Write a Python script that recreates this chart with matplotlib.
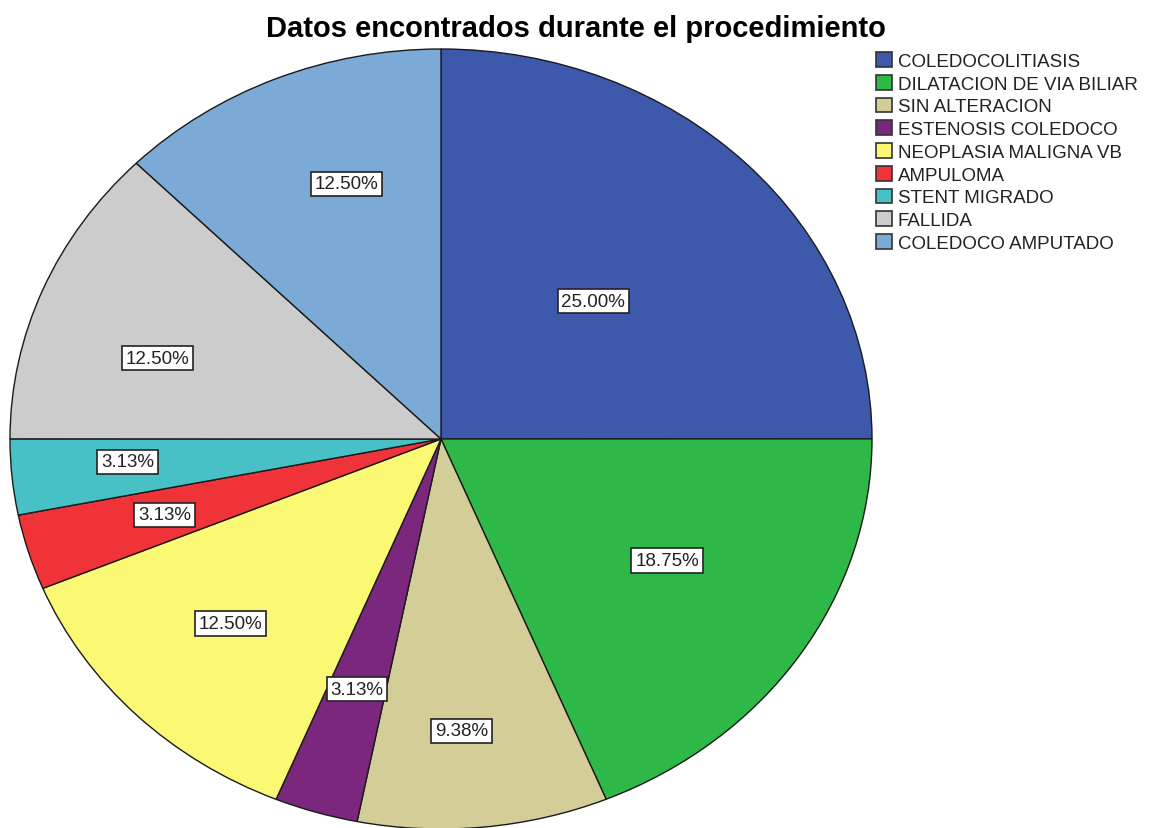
import matplotlib

matplotlib.use("Agg")
import matplotlib.pyplot as plt
import numpy as np
from matplotlib.patches import Patch

categories = [
    "COLEDOCOLITIASIS",
    "DILATACION DE VIA BILIAR",
    "SIN ALTERACION",
    "ESTENOSIS COLEDOCO",
    "NEOPLASIA MALIGNA VB",
    "AMPULOMA",
    "STENT MIGRADO",
    "FALLIDA",
    "COLEDOCO AMPUTADO",
]
percents = [25.00, 18.75, 9.38, 3.13, 12.50, 3.13, 3.13, 12.50, 12.50]
colors = ["#3E58AC", "#2EB848", "#D3CE97", "#7B277D", "#FBF873",
          "#EF3338", "#48C1C6", "#CCCCCC", "#7BAAD7"]
# radial position of each label (fraction of radius), as SPSS placed them
label_dist = [0.50, 0.61, 0.75, 0.67, 0.68, 0.67, 0.73, 0.69, 0.69]
label_angle_shift = [0, 3, -2, 0, -1, 0, -1, 5, -4]

plt.rcParams["font.family"] = ["Liberation Sans", "DejaVu Sans"]

W, H = 1155, 829
fig = plt.figure(figsize=(W / 100, H / 100), dpi=100)
cx, cy, rx, ry = 441, 440, 431, 390
ax = fig.add_axes([(cx - rx) / W, (H - cy - ry) / H, 2 * rx / W, 2 * ry / H])

wedges, _ = ax.pie(
    percents,
    colors=colors,
    startangle=90,
    counterclock=False,
    wedgeprops=dict(edgecolor="#1a1a1a", linewidth=1.0),
)
for w in wedges:
    w.set_clip_on(False)
ax.set_aspect("auto")
ax.set_xlim(-1, 1)
ax.set_ylim(-1, 1)
ax.axis("off")

for w, p, d, s in zip(wedges, percents, label_dist, label_angle_shift):
    mid = np.deg2rad((w.theta1 + w.theta2) / 2 + s)
    ax.text(d * np.cos(mid), d * np.sin(mid), f"{p:.2f}%",
            ha="center", va="center", fontsize=13.5, color="#222222",
            bbox=dict(boxstyle="square,pad=0.2", facecolor="white",
                      edgecolor="#222222", linewidth=1.2))

fig.text(576 / W, 1 - 29 / H, "Datos encontrados durante el procedimiento",
         ha="center", va="center", fontsize=21, fontweight="bold")

handles = [Patch(facecolor=c, edgecolor="#333333", linewidth=1.2) for c in colors]
fig.legend(handles, categories, loc="upper left",
           bbox_to_anchor=(876 / W, 1 - 53 / H), frameon=False,
           fontsize=13.5, labelcolor="#222222", handlelength=0.85,
           handleheight=0.85, handletextpad=0.3, labelspacing=0.255,
           borderaxespad=0, borderpad=0)

fig.savefig("out.png", dpi=100)
